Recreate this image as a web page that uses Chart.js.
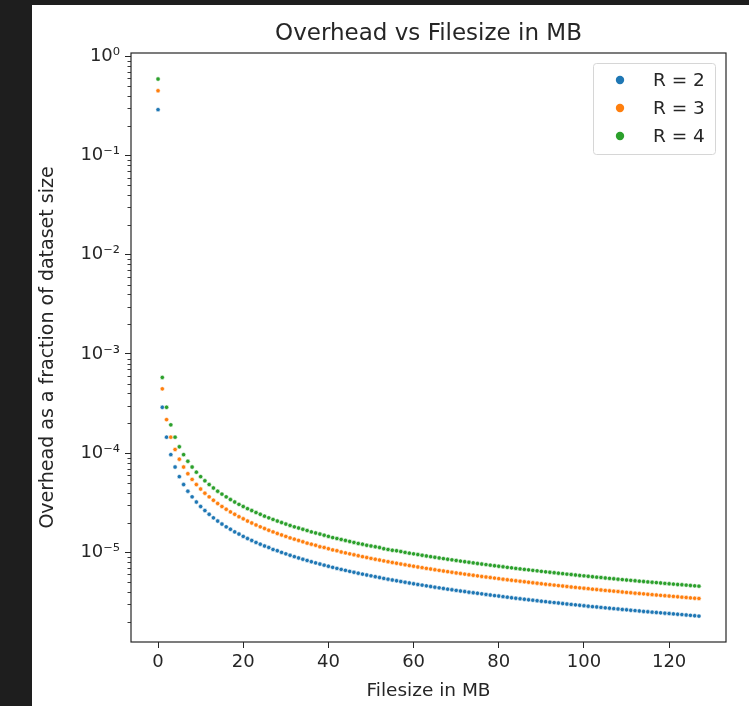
<!DOCTYPE html>
<html>
<head>
<meta charset="utf-8">
<script src="https://cdn.jsdelivr.net/npm/chart.js@4/dist/chart.umd.min.js"></script>
<style>
  html, body { margin: 0; padding: 0; background: #1e1e1e; }
  #frame { position: absolute; left: 32px; top: 5px; width: 717px; height: 701px; background: #fff; }
  canvas { display: block; }
</style>
</head>
<body>
<div id="frame"><canvas id="graphic" width="717" height="701"></canvas></div>
<script>
// ==========================================================================
// DATA (overhead values in units of 1e-6)
// ==========================================================================
const UNIT = 1e-6;
const sizes = [0,1,2,3,4,5,6,7,8,9,10,11,12,13,14,15,16,17,18,19,20,21,22,23,24,25,26,27,28,29,
  30,31,32,33,34,35,36,37,38,39,40,41,42,43,44,45,46,47,48,49,50,51,52,53,54,55,56,57,58,59,
  60,61,62,63,64,65,66,67,68,69,70,71,72,73,74,75,76,77,78,79,80,81,82,83,84,85,86,87,88,89,
  90,91,92,93,94,95,96,97,98,99,100,101,102,103,104,105,106,107,108,109,110,111,112,113,114,115,116,117,118,119,
  120,121,122,123,124,125,126,127];

const r2 = [290000, 290,145,96.7,72.5,58,48.3,41.4,36.3,32.2,29,26.4,24.2,22.3,20.7,19.3,18.1,17.1,16.1,15.3,
  14.5,13.8,13.2,12.6,12.1,11.6,11.2,10.7,10.4,10.0,9.67,9.35,9.06,8.79,8.53,8.29,8.06,7.84,7.63,7.44,
  7.25,7.07,6.90,6.74,6.59,6.44,6.30,6.17,6.04,5.92,5.80,5.69,5.58,5.47,5.37,5.27,5.18,5.09,5.00,4.92,
  4.83,4.75,4.68,4.60,4.53,4.46,4.39,4.33,4.26,4.20,4.14,4.08,4.03,3.97,3.92,3.87,3.82,3.77,3.72,3.67,
  3.63,3.58,3.54,3.49,3.45,3.41,3.37,3.33,3.30,3.26,3.22,3.19,3.15,3.12,3.09,3.05,3.02,2.99,2.96,2.93,
  2.90,2.87,2.84,2.82,2.79,2.76,2.74,2.71,2.69,2.66,2.64,2.61,2.59,2.57,2.54,2.52,2.50,2.48,2.46,2.44,
  2.42,2.40,2.38,2.36,2.34,2.32,2.30,2.28];

const r3 = [450000, 445,218,145,109,87,72.5,62.1,54.4,48.3,43.5,39.5,36.3,33.5,31.1,29,27.2,25.6,24.2,22.9,
  21.8,20.7,19.8,18.9,18.1,17.4,16.7,16.1,15.5,15.0,14.5,14.0,13.6,13.2,12.8,12.4,12.1,11.8,11.4,11.2,
  10.9,10.6,10.4,10.1,9.89,9.67,9.46,9.26,9.06,8.88,8.70,8.53,8.37,8.21,8.06,7.91,7.77,7.63,7.50,7.37,
  7.25,7.13,7.02,6.90,6.80,6.69,6.59,6.49,6.40,6.30,6.21,6.13,6.04,5.96,5.88,5.80,5.72,5.65,5.58,5.51,
  5.44,5.37,5.30,5.24,5.18,5.12,5.06,5.00,4.94,4.89,4.83,4.78,4.73,4.68,4.63,4.58,4.53,4.48,4.44,4.39,
  4.35,4.31,4.26,4.22,4.18,4.14,4.10,4.07,4.03,3.99,3.95,3.92,3.88,3.85,3.82,3.78,3.75,3.72,3.69,3.66,
  3.63,3.60,3.57,3.54,3.51,3.48,3.45,3.43];

const r4 = [590000, 580,290,193,145,116,96.7,82.9,72.5,64.4,58,52.7,48.3,44.6,41.4,38.7,36.3,34.1,32.2,30.5,
  29,27.6,26.4,25.2,24.2,23.2,22.3,21.5,20.7,20.0,19.3,18.7,18.1,17.6,17.1,16.6,16.1,15.7,15.3,14.9,
  14.5,14.1,13.8,13.5,13.2,12.9,12.6,12.3,12.1,11.8,11.6,11.4,11.2,10.9,10.7,10.5,10.4,10.2,10.0,9.83,
  9.67,9.51,9.35,9.21,9.06,8.92,8.79,8.66,8.53,8.41,8.29,8.17,8.06,7.95,7.84,7.73,7.63,7.53,7.44,7.34,
  7.25,7.16,7.07,6.99,6.90,6.82,6.74,6.67,6.59,6.52,6.44,6.37,6.30,6.24,6.17,6.11,6.04,5.98,5.92,5.86,
  5.80,5.74,5.69,5.63,5.58,5.52,5.47,5.42,5.37,5.32,5.27,5.23,5.18,5.13,5.09,5.04,5.00,4.96,4.92,4.87,
  4.83,4.79,4.75,4.72,4.68,4.64,4.60,4.57];

const seriesLabels = ['R = 2', 'R = 3', 'R = 4'];
const seriesColors = ['#1f77b4', '#ff7f0e', '#2ca02c'];

const xTickValues = [0, 20, 40, 60, 80, 100, 120];
const yTickValues = [1e-5, 1e-4, 1e-3, 1e-2, 1e-1, 1];
const yTickLabels = ['10⁻⁵', '10⁻⁴', '10⁻³', '10⁻²', '10⁻¹', '10⁰'];

const TITLE = 'Overhead vs Filesize in MB';
const FONT = 'DejaVu Sans';
const INK = '#262626';

// ==========================================================================
// PLUGINS
// ==========================================================================
// title over the plot, box around plot, minor log ticks, matplotlib-like legend
const frame = {
  id: 'frame',
  afterDraw(chart) {
    const {ctx, chartArea: a, scales} = chart;
    ctx.save();

    ctx.fillStyle = INK;
    ctx.font = '23px ' + FONT;
    ctx.textAlign = 'center';
    ctx.textBaseline = 'middle';
    ctx.fillText(TITLE, (a.left + a.right) / 2, 29);

    ctx.strokeStyle = INK;
    ctx.lineWidth = 1.2;
    ctx.strokeRect(a.left, a.top, a.right - a.left, a.bottom - a.top);

    // minor ticks on the log axis
    ctx.lineWidth = 0.9;
    const y = scales.y;
    for (let e = -6; e <= 0; e++) {
      for (let m = 2; m <= 9; m++) {
        const v = m * Math.pow(10, e);
        if (v < y.min || v > y.max) continue;
        const py = Math.round(y.getPixelForValue(v)) + 0.5;
        ctx.beginPath();
        ctx.moveTo(a.left - 3.5, py);
        ctx.lineTo(a.left, py);
        ctx.stroke();
      }
    }

    // legend
    const bx = 561, by = 58, bw = 122, bh = 91;
    ctx.beginPath();
    ctx.roundRect(bx + 0.5, by + 0.5, bw, bh, 3);
    ctx.fillStyle = 'rgba(255,255,255,0.8)';
    ctx.fill();
    ctx.strokeStyle = '#d6d6d6';
    ctx.lineWidth = 1;
    ctx.stroke();
    ctx.font = '18.5px ' + FONT;
    ctx.textBaseline = 'middle';
    ctx.textAlign = 'left';
    chart.data.datasets.forEach((ds, i) => {
      const cy = by + 17 + i * 28;
      ctx.beginPath();
      ctx.arc(bx + 27, cy, 4.2, 0, Math.PI * 2);
      ctx.fillStyle = ds.backgroundColor;
      ctx.fill();
      ctx.fillStyle = INK;
      ctx.fillText(ds.label, bx + 60, cy + 1);
    });
    ctx.restore();
  }
};

// ==========================================================================
// GRAPHIC
// ==========================================================================
const series = [r2, r3, r4];
const datasets = series.map((vals, i) => ({
  label: seriesLabels[i],
  data: sizes.map((s, k) => ({x: s, y: vals[k] * UNIT})),
  backgroundColor: seriesColors[i],
  borderColor: 'rgba(255,255,255,0.75)',
  borderWidth: 0.8,
  pointRadius: 2.2,
  pointHoverRadius: 2.2,
  order: 3 - i
}));

let ctx = document.getElementById('graphic').getContext('2d');
let myChart = new Chart(ctx, {
  type: 'scatter',
  data: { datasets },
  plugins: [frame],
  options: {
    responsive: false,
    animation: false,
    layout: { padding: { left: 0, right: 23, top: 48, bottom: 0 } },
    plugins: {
      legend: { display: false },
      tooltip: { enabled: false },
      title: { display: false }
    },
    scales: {
      x: {
        type: 'linear',
        min: -6.35,
        max: 133.35,
        afterBuildTicks: (axis) => { axis.ticks = xTickValues.map(v => ({value: v})); },
        afterFit: (scale) => { scale.height = 64; },
        grid: { drawOnChartArea: false, drawTicks: true, tickLength: 6, tickColor: INK, tickWidth: 1 },
        border: { display: false },
        ticks: { color: INK, font: { family: FONT, size: 18 }, padding: 4, maxRotation: 0, autoSkip: false },
        title: { display: true, text: 'Filesize in MB', color: INK, font: { family: FONT, size: 18.5 }, padding: { top: 0, bottom: 4 } }
      },
      y: {
        type: 'logarithmic',
        min: 1.25e-6,
        max: 1.08,
        afterBuildTicks: (axis) => { axis.ticks = yTickValues.map(v => ({value: v})); },
        afterFit: (scale) => { scale.width = 99; },
        grid: { drawOnChartArea: false, drawTicks: true, tickLength: 6, tickColor: INK, tickWidth: 1 },
        border: { display: false },
        ticks: {
          color: INK,
          font: { family: FONT, size: 18 },
          padding: 5,
          autoSkip: false,
          callback: (value) => {
            const k = yTickValues.findIndex(v => Math.abs(v - value) / v < 1e-6);
            return k >= 0 ? yTickLabels[k] : '';
          }
        },
        title: { display: true, text: 'Overhead as a fraction of dataset size', color: INK, font: { family: FONT, size: 19 }, padding: { top: 5, bottom: 0 } }
      }
    }
  }
});
</script>
</body>
</html>
